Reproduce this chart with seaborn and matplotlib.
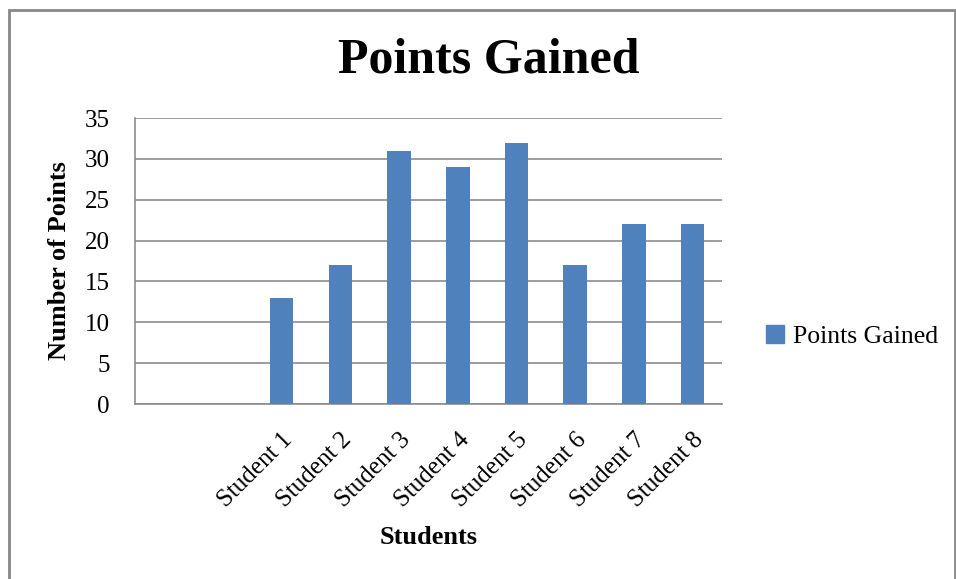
import numpy as np
import pandas as pd
import matplotlib.pyplot as plt
import matplotlib.patches as mpatches
import seaborn as sns

# two leading empty slots on the category axis, as in the original sheet
categories = ['blank 1', 'blank 2', 'Student 1', 'Student 2', 'Student 3', 'Student 4',
              'Student 5', 'Student 6', 'Student 7', 'Student 8']
tick_labels = ['', '', 'Student 1', 'Student 2', 'Student 3', 'Student 4',
               'Student 5', 'Student 6', 'Student 7', 'Student 8']
students = ['Student 1', 'Student 2', 'Student 3', 'Student 4',
            'Student 5', 'Student 6', 'Student 7', 'Student 8']
points = [13, 17, 31, 29, 32, 17, 22, 22]
y_ticks = [0, 5, 10, 15, 20, 25, 30, 35]

sns.set_style('white')
plt.rcParams['font.family'] = ['Liberation Serif', 'DejaVu Serif']
plt.rcParams['text.color'] = 'black'
plt.rcParams['axes.labelcolor'] = 'black'
plt.rcParams['xtick.labelcolor'] = 'black'
plt.rcParams['ytick.labelcolor'] = 'black'

bar_color = '#4F81BD'
grid_color = '#8c8c8c'

df = pd.DataFrame({'student': students, 'points': points})

fig = plt.figure(figsize=(9.56, 5.79), dpi=100)
ax = fig.add_axes([0.1412, 0.3022, 0.614, 0.494])

sns.barplot(data=df, x='student', y='points', order=categories, color=bar_color,
            width=0.4, saturation=1, linewidth=0, ax=ax, zorder=3)

ax.set_xlim(-0.5, len(categories) - 0.5)
ax.set_ylim(0, 35)
ax.set_yticks(y_ticks)
ax.set_yticklabels([str(v) for v in y_ticks], fontsize=18)
ax.yaxis.grid(True, color=grid_color, linewidth=1.2, zorder=0)

ax.set_xticks(np.arange(len(categories)))
ax.set_xticklabels(tick_labels, rotation=45, ha='right', rotation_mode='anchor', fontsize=18)
ax.set_xticks(np.arange(-0.5, len(categories)), minor=True)
ax.tick_params(axis='x', which='major', length=0, pad=18)
ax.tick_params(axis='x', which='minor', length=5, color=grid_color, width=1.2, direction='out')
ax.tick_params(axis='y', length=5, color=grid_color, width=1.2, direction='out', pad=13)

for side in ['top', 'right']:
    ax.spines[side].set_visible(False)
for side in ['left', 'bottom']:
    ax.spines[side].set_color(grid_color)
    ax.spines[side].set_linewidth(1.2)

ax.set_xlabel('Students', fontsize=19, fontweight='bold', labelpad=10)
ax.set_ylabel('Number of Points', fontsize=19, fontweight='bold', labelpad=10)

fig.suptitle('Points Gained', fontsize=36, fontweight='bold', x=0.511, y=0.896, va='center')

handle = mpatches.Patch(color=bar_color, label='Points Gained')
fig.legend(handles=[handle], loc='center left', bbox_to_anchor=(0.777, 0.418),
           frameon=False, fontsize=18.5, handlelength=0.7, handleheight=0.7,
           handletextpad=0.35)

# outer chart border
fig.add_artist(mpatches.Rectangle((0.0099, -0.01), 0.989, 0.9919, transform=fig.transFigure,
                                  fill=False, edgecolor='#888888', linewidth=2))

fig.savefig('out.png', dpi=100)
